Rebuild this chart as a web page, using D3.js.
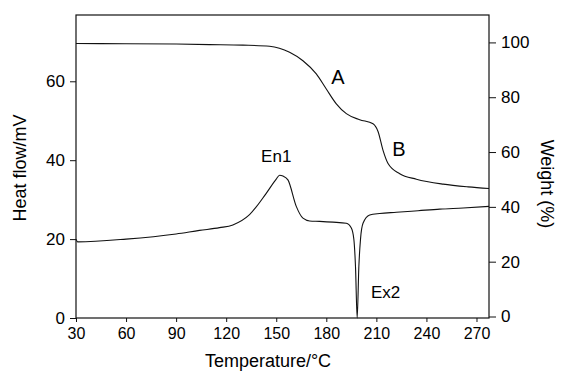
<!DOCTYPE html>
<html><head><meta charset="utf-8">
<script src="https://cdn.jsdelivr.net/npm/d3@7"></script>
<style>
body{margin:0;background:#fff;}
svg{display:block;font-family:"Liberation Sans",Arial,sans-serif;}
</style></head>
<body><svg id="c" width="562" height="373"></svg>
<script>
const xTicks = [30, 60, 90, 120, 150, 180, 210, 240, 270];
const leftTicks = [0, 20, 40, 60];
const rightTicks = [0, 20, 40, 60, 80, 100];

const tgaTemp   = [30, 60, 90, 110, 130, 146, 158, 166, 174, 180, 186, 192, 200, 208, 211, 214, 217, 224, 234, 250, 265, 277.5];
const tgaWeight = [99.6, 99.5, 99.4, 99.2, 99.0, 98.6, 96.4, 93.3, 88.5, 83, 77.6, 74, 71.8, 70.3, 67.5, 60.6, 55.8, 52.1, 50.1, 48.3, 47.3, 46.7];

const dscTemp = [30, 31, 60, 90, 104, 116, 124, 134, 144, 150, 152, 154, 157, 162, 166, 170, 176, 184, 192, 195, 196.5, 197.5, 198.5, 199.5, 200.5, 202, 206, 212, 222, 235, 248, 262, 277.5];
const dscHeat = [20, 19.3, 20, 21.3, 22.2, 22.9, 23.6, 26.2, 31.6, 35.2, 36.2, 36, 35, 28.3, 25.3, 24.6, 24.5, 24.3, 24, 22.8, 20, 13, 0, 13, 20, 24, 26.1, 26.5, 26.8, 27.2, 27.6, 27.9, 28.3];

const labels = [
  {text: "A", t: 187, v: 85, axis: "r", size: 20},
  {text: "B", t: 223.5, v: 58.5, axis: "r", size: 20},
  {text: "En1", t: 150, v: 39.5, axis: "l", size: 17},
  {text: "Ex2", t: 215.5, v: 5, axis: "l", size: 17}
];

const svg = d3.select("#c");
const L = 76, R = 489, T = 15, B = 318;
const x = d3.scaleLinear().domain([30, 277.5]).range([L, R]);
const yL = d3.scaleLinear().domain([0, 76.8]).range([B, T]);
const yR = d3.scaleLinear().domain([0, 110]).range([B - 1.5, T]);

// frame
svg.append("rect").attr("x", L).attr("y", T).attr("width", R - L).attr("height", B - T)
  .attr("fill", "none").attr("stroke", "#111").attr("stroke-width", 1.2);

function styleAxis(g, size) {
  g.select(".domain").remove();
  g.selectAll("line").attr("stroke", "#111").attr("stroke-width", 1);
  g.selectAll("text").attr("font-size", size).attr("fill", "#000")
   .attr("font-family", "Liberation Sans, Arial, sans-serif");
}

svg.append("g").attr("transform", `translate(0,${B})`)
  .call(d3.axisBottom(x).tickValues(xTicks).tickSize(4).tickPadding(6))
  .call(g => styleAxis(g, 16));

svg.append("g").attr("transform", `translate(${L},0)`)
  .call(d3.axisLeft(yL).tickValues(leftTicks).tickSize(6).tickPadding(5))
  .call(g => styleAxis(g, 17));

svg.append("g").attr("transform", `translate(${R},0)`)
  .call(d3.axisRight(yR).tickValues(rightTicks).tickSize(7).tickPadding(5))
  .call(g => styleAxis(g, 17));

// curves
const tga = tgaTemp.map((t, i) => [t, tgaWeight[i]]);
const dsc = dscTemp.map((t, i) => [t, dscHeat[i]]);

svg.append("path").datum(tga)
  .attr("d", d3.line().x(d => x(d[0])).y(d => yR(d[1])).curve(d3.curveMonotoneX))
  .attr("fill", "none").attr("stroke", "#111").attr("stroke-width", 1.1);

svg.append("path").datum(dsc)
  .attr("d", d3.line().x(d => x(d[0])).y(d => yL(d[1])).curve(d3.curveMonotoneX))
  .attr("fill", "none").attr("stroke", "#111").attr("stroke-width", 1.1);

// labels
labels.forEach(l => {
  svg.append("text").attr("x", x(l.t)).attr("y", l.axis === "r" ? yR(l.v) : yL(l.v))
    .attr("text-anchor", "middle").attr("font-size", l.size).attr("fill", "#000").text(l.text);
});

// axis titles
svg.append("text").attr("x", 268).attr("y", 367).attr("text-anchor", "middle")
  .attr("font-size", 18).text("Temperature/°C");
svg.append("text").attr("transform", "translate(26,168) rotate(-90)").attr("text-anchor", "middle")
  .attr("font-size", 18).text("Heat flow/mV");
svg.append("text").attr("transform", "translate(541,184) rotate(90)").attr("text-anchor", "middle")
  .attr("font-size", 18).text("Weight (%)");
</script></body></html>
